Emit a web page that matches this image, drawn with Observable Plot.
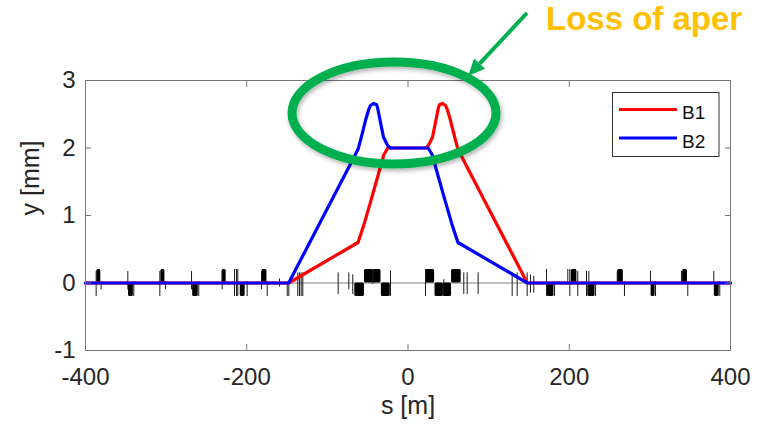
<!DOCTYPE html>
<html>
<head>
<meta charset="utf-8">
<script src="https://cdn.jsdelivr.net/npm/d3@7"></script>
<script src="https://cdn.jsdelivr.net/npm/@observablehq/plot@0.6"></script>
<style>
  html, body { margin: 0; padding: 0; background: #fff; overflow: hidden; }
  #chart svg { display: block; overflow: hidden; }
</style>
</head>
<body>
<div id="chart"></div>
<script>
// Closed-orbit excursion y(s) for both beams around the interaction point
const b1S = [-400, -148, -62, -55, -46, -37, -30, -25, 22, 25.4, 30.4, 34.1, 37.8, 39, 42.8, 46.5, 49, 52.7, 56, 59, 62, 71, 148, 400];
const b1Y = [0, 0, 0.6, 0.85, 1.22, 1.6, 1.9, 2.0, 2.0, 2.04, 2.16, 2.38, 2.6, 2.64, 2.66, 2.63, 2.56, 2.41, 2.25, 2.11, 1.98, 1.77, 0, 0];
const b2S = [-400, -148, -71, -62, -59, -56, -52.7, -49, -46.5, -42.8, -39, -37.8, -34.1, -30.4, -25.4, -22, 25, 30, 37, 46, 55, 62, 148, 400];
const b2Y = [0, 0, 1.77, 1.98, 2.11, 2.25, 2.41, 2.56, 2.63, 2.66, 2.64, 2.6, 2.38, 2.16, 2.04, 2.0, 2.0, 1.9, 1.6, 1.22, 0.85, 0.6, 0, 0];

// Quadrupoles: centre [m], length [m], polarity (+1 focusing drawn above, -1 below)
const quadS   = [-383.5, -343.6, -304, -263.6, -228, -205, -178, -60, -48.5, -38.5, -27.5, 27.5, 38.5, 48.5, 60, 177, 206, 227.5, 263.6, 304, 343.6, 383];
const quadLen = [5, 6, 5, 7, 5, 6, 6, 12, 11, 10, 11, 11, 10, 11, 12, 8, 7, 9, 7, 5, 6, 6];
const quadPol = [1, -1, 1, -1, 1, -1, 1, -1, 1, 1, -1, 1, -1, -1, 1, -1, 1, -1, 1, -1, 1, -1];

// Thin lattice elements: position [m], upper and lower extent [mm]
const elemS   = [-386.8, -380.6, -347.5, -340.1, -307.8, -300.8, -268.5, -259.5, -230.5, -215.2, -212.7, -211.1, -199.5, -181.7, -174.6, -159.4, -149.8, -147.8, -136.7, -134.6, -132.5, -130.5, -86.6, -73.4, -68.5, -43.7, -21.7, 21.7, 44.4, 69.2, 73.4, 87, 129.2, 135.4, 147.8, 151.9, 156, 171.8, 181.7, 198.2, 200.7, 210.6, 221.4, 224.3, 232.6, 259.5, 268.5, 300.8, 307, 339.2, 347, 379.3, 386.7];
const elemTop = [0.17, 0.02, 0.17, 0.02, 0.17, 0.02, 0.17, 0.02, 0.17, 0.2, 0.2, 0.2, 0.02, 0.17, 0.02, 0.06, 0.02, 0.02, 0.15, 0.15, 0.15, 0.15, 0.15, 0.15, 0.12, 0.2, 0.18, 0.2, 0.05, 0.15, 0.15, 0.15, 0.15, 0.15, 0.15, 0.12, 0.1, 0.2, 0.02, 0.2, 0.2, 0.17, 0.17, 0.17, 0.02, 0.17, 0.02, 0.17, 0.02, 0.17, 0.02, 0.17, 0.02];
const elemBot = [-0.2, -0.1, -0.1, -0.2, -0.2, -0.1, -0.1, -0.2, -0.1, -0.2, -0.2, -0.2, -0.2, -0.1, -0.2, -0.06, -0.2, -0.2, -0.2, -0.2, -0.2, -0.2, -0.17, -0.1, -0.17, -0.02, -0.2, -0.2, -0.2, -0.17, -0.17, -0.17, -0.2, -0.2, -0.2, -0.15, -0.15, -0.2, -0.2, -0.02, -0.2, -0.2, -0.2, -0.2, -0.2, -0.02, -0.2, -0.02, -0.2, -0.02, -0.2, -0.02, -0.2];

const xTicks = [-400, -200, 0, 200, 400];
const yTicks = [-1, 0, 1, 2, 3];
const seriesNames = ["B1", "B2"];
const seriesColors = ["#ff0000", "#0000ff"];

const b1 = b1S.map((s, i) => ({s, y: b1Y[i]}));
const b2 = b2S.map((s, i) => ({s, y: b2Y[i]}));
const quadHeight = 0.2;
const quads = quadS.map((s, i) => ({x1: s - quadLen[i] / 2, x2: s + quadLen[i] / 2, y2: quadPol[i] * quadHeight}));
const elems = elemS.map((s, i) => ({s, top: elemTop[i], bot: elemBot[i]}));

const font = "'Liberation Sans', Arial, Helvetica, sans-serif";
const axisGray = "#777";
const blank = () => "";
const plain = d => String(d);

const plot = Plot.plot({
  width: 765,
  height: 428,
  marginLeft: 85,
  marginRight: 35,
  marginTop: 80,
  marginBottom: 78,
  style: {fontFamily: font, fontSize: "24px", color: "#262626", background: "#fff"},
  x: {domain: [-400, 400]},
  y: {domain: [-1, 3]},
  marks: [
    Plot.ruleY([0], {stroke: "#808080", strokeWidth: 1}),
    Plot.rect(quads, {x1: "x1", x2: "x2", y1: 0, y2: "y2", fill: "#000", rx: 1.5}),
    Plot.ruleX(elems, {x: "s", y1: "bot", y2: "top", stroke: "#1a1a1a", strokeWidth: 1}),
    Plot.line(b1, {x: "s", y: "y", stroke: seriesColors[0], strokeWidth: 3.2}),
    Plot.line(b2, {x: "s", y: "y", stroke: seriesColors[1], strokeWidth: 3.2}),
    Plot.frame({stroke: axisGray, strokeWidth: 1}),
    // tick labels
    Plot.axisX(xTicks, {anchor: "bottom", tickSize: 0, tickPadding: 17, tickFormat: plain, label: null, fill: "#262626", fontSize: 24}),
    Plot.axisY(yTicks, {anchor: "left", tickSize: 0, tickPadding: 10, tickFormat: plain, label: null, fill: "#262626", fontSize: 24}),
    // inward ticks on all four sides
    Plot.axisX(xTicks, {anchor: "bottom", tickSize: -6, tickFormat: blank, label: null, stroke: axisGray}),
    Plot.axisX(xTicks, {anchor: "top", tickSize: -6, tickFormat: blank, label: null, stroke: axisGray}),
    Plot.axisY(yTicks, {anchor: "left", tickSize: -6, tickFormat: blank, label: null, stroke: axisGray}),
    Plot.axisY(yTicks, {anchor: "right", tickSize: -6, tickFormat: blank, label: null, stroke: axisGray}),
    // axis titles
    Plot.text(["s [m]"], {text: d => d, frameAnchor: "bottom", dy: 63, fontSize: 25, fill: "#262626"}),
    Plot.text(["y [mm]"], {text: d => d, frameAnchor: "left", dx: -55, rotate: -90, fontSize: 25, fill: "#262626"})
  ]
});

document.getElementById("chart").appendChild(plot);

const svg = d3.select(plot);

// Legend box in the upper right of the axes
const legend = svg.append("g").attr("font-family", font).attr("text-anchor", "start");
legend.append("rect")
  .attr("x", 612.5).attr("y", 92.5).attr("width", 106.5).attr("height", 64)
  .attr("fill", "#fff").attr("stroke", "#333").attr("stroke-width", 1);
seriesNames.forEach((name, i) => {
  const cy = 109.5 + i * 28.5;
  legend.append("line")
    .attr("x1", 619).attr("x2", 677).attr("y1", cy).attr("y2", cy)
    .attr("stroke", seriesColors[i]).attr("stroke-width", 3.2);
  legend.append("text")
    .attr("x", 682).attr("y", cy + 9.5)
    .attr("font-size", 19).attr("fill", "#111").text(name);
});

// Highlight of the crossing bump
const defs = svg.append("defs");
const shadow = defs.append("filter").attr("id", "ringShadow")
  .attr("x", "-20%").attr("y", "-20%").attr("width", "140%").attr("height", "140%");
shadow.append("feDropShadow")
  .attr("dx", 1.5).attr("dy", 2.5).attr("stdDeviation", 2)
  .attr("flood-color", "#000").attr("flood-opacity", 0.3);

const green = "#00b050";
svg.append("ellipse")
  .attr("cx", 394).attr("cy", 113).attr("rx", 102).attr("ry", 51)
  .attr("fill", "none").attr("stroke", green).attr("stroke-width", 9)
  .attr("filter", "url(#ringShadow)");

// Arrow pointing at the ring
const tail = [527, 13], tip = [468, 76];
const dx = tip[0] - tail[0], dy = tip[1] - tail[1];
const len = Math.hypot(dx, dy), ux = dx / len, uy = dy / len;
const headLen = 17, headHalf = 7.5;
const base = [tip[0] - ux * headLen, tip[1] - uy * headLen];
svg.append("line")
  .attr("x1", tail[0]).attr("y1", tail[1]).attr("x2", base[0]).attr("y2", base[1])
  .attr("stroke", green).attr("stroke-width", 4);
svg.append("path")
  .attr("d", `M${tip[0]},${tip[1]}L${base[0] - uy * headHalf},${base[1] + ux * headHalf}L${base[0] + uy * headHalf},${base[1] - ux * headHalf}Z`)
  .attr("fill", green);

svg.append("text")
  .attr("x", 546).attr("y", 30)
  .attr("text-anchor", "start")
  .attr("font-family", font).attr("font-weight", "bold").attr("font-size", 33)
  .attr("fill", "#ffc000")
  .text("Loss of aper");
</script>
</body>
</html>
